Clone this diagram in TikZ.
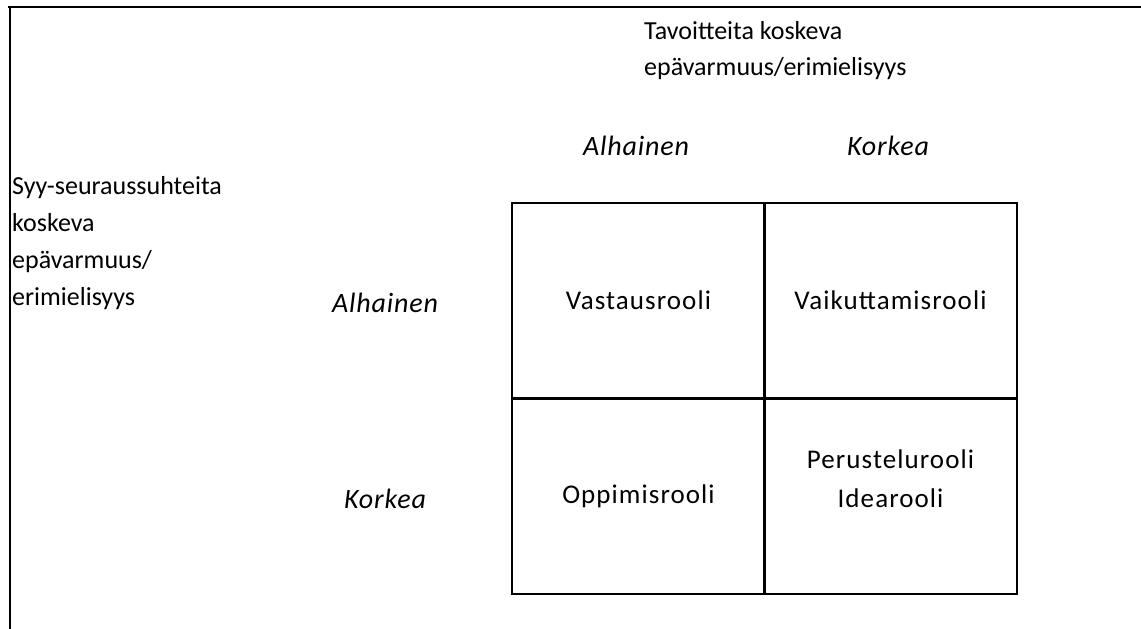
\documentclass[tikz,border=0pt]{standalone}
\usepackage{fontspec}
\setmainfont{Carlito}
\usetikzlibrary{positioning}

\begin{document}
\begin{tikzpicture}[
  x=1pt, y=-1pt,
  cellfont/.style={font=\fontsize{27}{39}\selectfont\addfontfeature{LetterSpace=4}},
  cell/.style={rectangle, draw, line width=1.8pt, minimum width=253pt, minimum height=195pt, inner sep=0pt, align=center, cellfont},
  hdr/.style={font=\fontsize{28}{37}\selectfont\itshape\addfontfeature{LetterSpace=3}, anchor=base, inner sep=0pt},
  lbl/.style={align=left, anchor=base west, inner sep=0pt},
  font=\fontsize{26}{37}\selectfont
]
\useasboundingbox (0,0) rectangle (1141,629);

% frame
\draw[line width=2pt] (8,7) -- (1141,7);
\draw[line width=2pt] (9.5,7) -- (9.5,629);

% axis titles
\node[lbl, font=\fontsize{26}{36}\selectfont] (goal) at (644,75) {Tavoitteita koskeva\\epävarmuus/erimielisyys};
\node[lbl] (cause) at (12,305) {Syy-seuraussuhteita\\koskeva\\epävarmuus/\\erimielisyys};

% cells
\node[cell] (vast) at (638.5,300.5) {Vastausrooli};
\node[cell] (vaik) at (890.5,300.5) {Vaikuttamisrooli};
\node[cell] (oppi) at (638.5,496.5) {Oppimisrooli};
\node[cell] (peru) at (890.5,496.5) {};
\node[cellfont, align=center, anchor=base, inner sep=0pt] (peruText) at (890.5,507) {Perustelurooli\\Idearooli};

% column and row headings
\node[hdr] (colLow) at (636,155) {Alhainen};
\node[hdr] (colHigh) at (888,155) {Korkea};
\node[hdr] (rowLow) at (385,312) {Alhainen};
\node[hdr] (rowHigh) at (385,508) {Korkea};
\end{tikzpicture}
\end{document}
